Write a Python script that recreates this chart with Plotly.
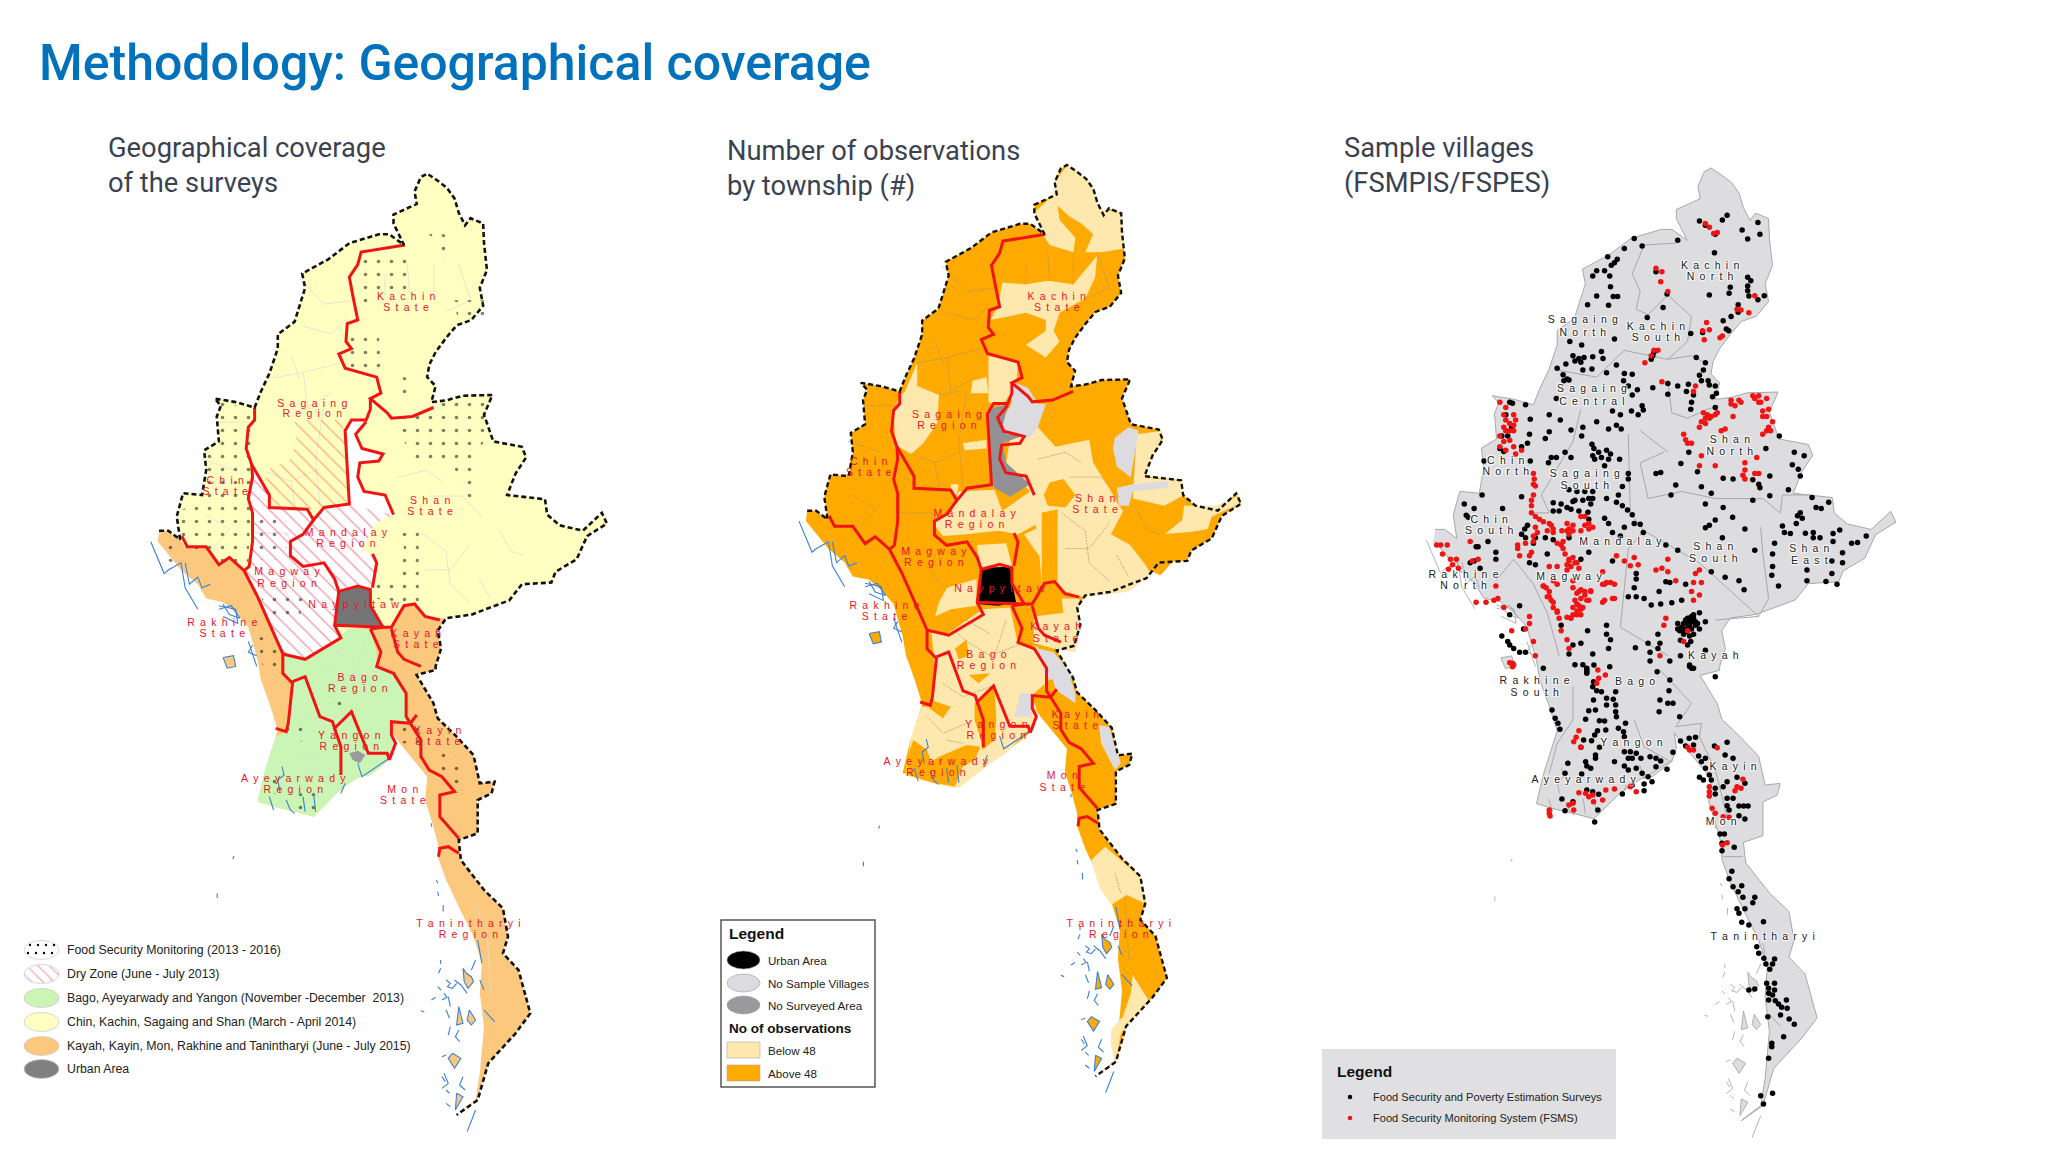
import plotly.graph_objects as go

# sheets: x0, x scale, y0, y scale of the traced crops
M1N = (0, 2.376, 120, 2.8)
M1S = (0, 2.376, 660, 3.0)
M2N = (690, 2.53, 120, 2.8)
M2S = (690, 2.53, 660, 3.0)
M3N = (1320, 2.53, 120, 2.8)
M3S = (1320, 2.53, 660, 3.0)
# the second and third map are the first one at another scale
MAP2 = (0.969, 653, 0.968, -3)
MAP3 = (1.029, 1271.4, 1.012, -7.7)

TITLE = 'Methodology: Geographical coverage'
SUBTITLES = [('Geographical coverage<br>of the surveys', 106, 165), ('Number of observations<br>by township (#)', 725, 168),
             ('Sample villages<br>(FSMPIS/FSPES)', 1342, 165)]

BORDER_N = [(378, 1150), (400, 1150), (428, 1175), (420, 1110), (435, 1045), (480, 1050), (490, 980), (485, 925),
            (520, 900), (515, 830), (525, 800), (510, 780), (560, 790), (605, 805), (620, 760), (640, 710), (660, 640),
            (660, 600), (700, 565), (725, 470), (718, 430), (780, 390), (830, 345), (900, 320), (925, 320), (960, 350),
            (935, 290), (935, 265), (990, 235), (985, 200), (1000, 160), (1015, 150), (1040, 170), (1062, 190),
            (1080, 220), (1090, 260), (1105, 295), (1118, 275), (1148, 290), (1150, 345), (1157, 420), (1140, 470),
            (1148, 520), (1120, 560), (1085, 575), (1060, 610), (1035, 650), (1020, 685), (1015, 720), (1035, 745),
            (1025, 790), (1060, 785), (1100, 772), (1170, 770), (1150, 825), (1172, 900), (1240, 915), (1250, 945),
            (1225, 990), (1205, 1050), (1295, 1062), (1300, 1105), (1330, 1135), (1385, 1150), (1430, 1100),
            (1442, 1130), (1395, 1165), (1370, 1230), (1320, 1265), (1310, 1295), (1240, 1300), (1210, 1345),
            (1120, 1385), (1060, 1395), (1040, 1430), (1048, 1480), (1035, 1530)]
BORDER_S = [(1035, 30), (990, 45), (1030, 130), (1040, 175), (1085, 230), (1125, 285), (1140, 370), (1175, 365),
            (1168, 400), (1135, 420), (1135, 520), (1090, 540), (1095, 600), (1150, 690), (1195, 745), (1207, 830),
            (1195, 880), (1232, 930), (1260, 1060), (1225, 1120), (1160, 1210), (1135, 1320), (1085, 1365)]
COAST_S = [(1130, 1320), (1140, 1240), (1150, 1100), (1140, 1000), (1145, 910), (1125, 830), (1090, 740), (1060, 660),
           (1040, 590), (1040, 550), (1025, 480), (1010, 420), (1015, 350), (975, 290), (950, 250), (930, 215),
           (935, 260), (925, 300), (880, 345), (855, 350), (830, 370), (800, 400), (745, 470), (700, 455), (650, 440),
           (612, 425), (630, 330), (655, 230), (660, 210), (640, 130), (620, 60), (612, 0)]
COAST_N = [(590, 1420), (560, 1380), (530, 1350), (490, 1340), (470, 1300), (430, 1260), (395, 1210), (375, 1180)]

# first map regions
YELLOW_N = [(378, 1150), (400, 1150), (428, 1175), (440, 1195), (490, 1195), (520, 1245), (545, 1225), (580, 1262),
            (610, 1330), (640, 1410), (672, 1495), (725, 1510), (810, 1450), (825, 1425), (910, 1420), (930, 1420),
            (960, 1360), (985, 1355), (1010, 1390), (1060, 1395)]
GREEN_N = [(672, 1495), (725, 1510), (810, 1450), (825, 1425), (880, 1425), (895, 1490)]
GREEN_S = [(895, 20), (935, 40), (965, 100), (965, 170), (975, 190), (930, 185), (930, 225), (940, 250), (925, 300),
           (880, 345), (855, 350), (830, 370), (800, 400), (745, 470), (700, 455), (650, 440), (612, 425), (630, 330),
           (655, 230), (680, 215), (685, 190), (695, 70), (672, 40)]
WHITE_STRIP = [(820, 870), (835, 840), (870, 845), (845, 880), (860, 920), (910, 935), (900, 955), (855, 960),
               (850, 1000), (865, 1040), (915, 1050), (935, 1105), (840, 1095), (830, 1075), (825, 960)]
MANDALAY = [(745, 1120), (770, 1085), (830, 1078), (935, 1105), (890, 1130), (860, 1205), (890, 1225), (890, 1305),
            (805, 1320), (795, 1285), (770, 1240), (720, 1250), (690, 1220), (690, 1180), (720, 1160)]
MAGWAY = [(598, 965), (615, 1000), (640, 1050), (640, 1085), (730, 1090), (745, 1120), (720, 1160), (690, 1180),
          (690, 1220), (720, 1250), (770, 1240), (795, 1285), (805, 1320), (795, 1415), (810, 1450), (725, 1510),
          (672, 1495), (640, 1410), (610, 1330), (580, 1262), (592, 1250), (600, 1180), (600, 1100), (590, 1060),
          (600, 1000)]
DRY_SAGAING = [(700, 840), (810, 840), (825, 890), (825, 1075), (740, 1090), (640, 1080), (625, 1040), (635, 980),
               (690, 950), (705, 900)]
NAYPYITAW = [(805, 1320), (850, 1305), (880, 1315), (880, 1360), (910, 1420), (795, 1415), (800, 1380)]
YANGON_CITY = [(830, 280), (850, 272), (868, 285), (855, 310), (838, 300)]
DOTS_N = [
    [(850, 380), (970, 380), (970, 480), (900, 490), (880, 520), (845, 520)],
    [(995, 270), (1010, 310), (1075, 325), (1070, 390), (1035, 395), (1030, 330), (1000, 305)],
    [(1075, 505), (1150, 505), (1150, 560), (1090, 560)],
    [(830, 600), (900, 595), (905, 700), (830, 700)],
    [(955, 720), (980, 720), (980, 790), (950, 770)],
    [(950, 830), (1030, 800), (1100, 775), (1170, 780), (1150, 900), (1130, 940), (1140, 1065), (1100, 1065),
     (1075, 950), (1000, 975), (960, 900)],
    [(950, 1150), (995, 1150), (995, 1350), (955, 1350), (890, 1340), (890, 1290), (930, 1290), (960, 1200)],
    [(520, 790), (605, 810), (590, 1240), (510, 1235), (430, 1180), (425, 1100), (470, 1060), (490, 940), (520, 900)],
    [(600, 1100), (680, 1120), (680, 1230), (600, 1230)],
    [(620, 1330), (720, 1340), (710, 1410), (640, 1410)],
    [(610, 1440), (665, 1480), (680, 1530), (625, 1530)],
    [(390, 1160), (430, 1180), (430, 1260), (395, 1230)],
]
DOTS_S = [
    [(940, 190), (1000, 190), (1000, 250), (950, 250)],
    [(1040, 260), (1110, 310), (1100, 390), (1040, 340)],
    [(680, 200), (730, 200), (725, 250), (680, 225)],
    [(630, 340), (670, 340), (670, 400), (630, 400)],
    [(690, 400), (760, 400), (760, 460), (690, 460)],
    [(780, 110), (815, 110), (810, 140), (780, 140)],
]

# region lines shared by the first two maps
RED_N = [
    [(962, 350), (858, 370), (850, 405), (830, 440), (838, 490), (850, 560), (825, 570), (822, 620), (835, 640),
     (805, 655), (820, 695), (895, 720), (905, 765), (880, 780), (920, 820), (930, 835), (980, 830), (1030, 805)],
    [(605, 805), (605, 840), (590, 860), (585, 920), (598, 965), (600, 1000), (590, 1060), (600, 1100), (600, 1180),
     (592, 1250), (580, 1262)],
    [(598, 965), (615, 1000), (640, 1050), (640, 1085), (730, 1090), (745, 1120), (770, 1085), (830, 1075), (825, 960),
     (820, 870), (835, 840), (870, 840), (880, 810), (880, 780)],
    [(870, 845), (845, 880), (860, 920), (910, 935), (900, 955), (855, 960), (850, 1000), (865, 1040), (915, 1050),
     (935, 1105)],
    [(745, 1120), (720, 1160), (690, 1180), (690, 1220), (720, 1250), (770, 1240), (795, 1285), (805, 1320),
     (795, 1415), (810, 1450), (725, 1510), (672, 1495)],
    [(805, 1320), (850, 1305), (880, 1315), (880, 1360), (910, 1420), (795, 1415)],
    [(885, 1215), (895, 1240), (885, 1310)],
    [(880, 1425), (910, 1420), (930, 1420), (960, 1360), (985, 1355), (1010, 1390), (1045, 1400)],
    [(930, 1425), (945, 1490), (960, 1510), (1000, 1530)],
]
RED_CROSS = [  # these run over the seam of the two crops
    ([(432, 1165), (445, 1195), (490, 1195), (520, 1245), (545, 1225), (580, 1262), (610, 1330), (640, 1410), (672, 1495)],
     [(672, 40), (695, 70), (685, 190), (680, 215), (655, 205)]),
    ([(880, 1425), (905, 1490)],
     [(895, 20), (935, 40), (965, 100), (965, 170), (975, 190), (930, 185), (930, 225), (940, 250), (925, 300)]),
]
RED_S = [
    [(990, 165), (975, 190), (1000, 240), (1000, 290), (1020, 330), (1050, 350), (1080, 395), (1045, 405), (1045, 470),
     (1090, 535)],
    [(1042, 590), (1045, 565), (1065, 560), (1090, 580)],
    [(695, 65), (725, 50), (760, 170), (790, 185), (795, 205), (835, 155), (875, 280), (920, 280), (925, 300)],
    [(795, 205), (810, 260), (810, 345)],
]
# closed rings are islands, open ones are rivers and creeks
WATER_S = [
    [(1100, 925), (1108, 940), (1120, 950), (1125, 965), (1112, 985), (1103, 965), (1100, 925)],
    [(1115, 1050), (1130, 1080), (1120, 1095), (1110, 1080), (1115, 1050)],
    [(1090, 1040), (1100, 1090), (1085, 1095), (1090, 1040)],
    [(1075, 1180), (1095, 1195), (1080, 1225), (1065, 1195), (1075, 1180)],
    [(1085, 1300), (1100, 1310), (1082, 1350), (1085, 1300)],
    [(1060, 960), (1070, 970), (1063, 980), (1075, 985), (1085, 970)],
    [(1040, 980), (1048, 990)],
    [(1025, 1020), (1035, 1012)],
    [(1065, 1010), (1070, 1040)],
    [(1060, 1050), (1068, 1075)],
    [(1070, 1100), (1065, 1125)],
    [(1050, 1190), (1060, 1185)],
    [(1050, 1250), (1058, 1265)],
    [(1060, 1290), (1068, 1300)],
    [(1060, 1330), (1070, 1340)],
    [(1080, 960), (1095, 975), (1110, 1000)],
    [(1055, 1000), (1062, 1012), (1050, 1020)],
    [(1090, 1110), (1082, 1130), (1092, 1145)],
    [(1055, 1240), (1065, 1270), (1050, 1285)],
    [(1100, 1250), (1092, 1275), (1105, 1290)],
    [(1130, 900), (1120, 930)],
    [(1140, 960), (1150, 990)],
    [(1150, 1050), (1175, 1085)],
    [(1135, 840), (1145, 910)],
    [(1110, 1415), (1130, 1350)],
    [(1047, 900), (1047, 912)],
    [(1047, 925), (1042, 940)],
    [(1000, 1052), (1008, 1056)],
    [(1037, 660), (1040, 670)],
    [(1040, 695), (1042, 708)],
    [(1053, 735), (1053, 755)],
    [(553, 597), (556, 588)],
    [(516, 700), (516, 714)],
    [(1025, 490), (1025, 500)],
    [(670, 320), (675, 345), (660, 360), (665, 395)],
    [(640, 410), (650, 450)],
    [(680, 420), (690, 450), (700, 460)],
    [(720, 410), (725, 455)],
    [(745, 400), (750, 455)],
    [(820, 370), (810, 400)],
    [(850, 310), (860, 350), (925, 295)],
]
WATER_N = [
    [(358, 1180), (390, 1270), (400, 1260), (430, 1240), (440, 1310), (470, 1370)],
    [(440, 1240), (450, 1300), (470, 1280), (480, 1310), (500, 1300)],
    [(530, 1355), (545, 1385), (570, 1395), (550, 1360), (520, 1370)],
    [(520, 1360), (560, 1370), (565, 1410), (530, 1390)],
    [(600, 1470), (590, 1490), (610, 1500)],
    [(590, 1460), (610, 1530)],
    [(530, 1505), (555, 1500), (560, 1530), (540, 1535), (530, 1505)],
]

# second map fills
LIGHT_N2 = [
    [(955, 125), (1020, 180), (1035, 250), (1090, 260), (1100, 360), (1040, 370), (1000, 370), (1020, 320), (990, 290),
     (960, 270), (930, 240), (935, 280), (975, 330), (970, 370), (910, 350), (895, 325), (870, 260), (920, 210),
     (925, 170)],
    [(790, 455), (850, 460), (905, 450), (970, 460), (1030, 380), (1025, 440), (1000, 500), (935, 540), (920, 590),
     (935, 620), (900, 665), (850, 630), (900, 590), (900, 560), (850, 540), (760, 560), (780, 520)],
    [(715, 730), (750, 720), (755, 765), (710, 765)],
    [(530, 770), (575, 745), (630, 770), (625, 850), (590, 905), (560, 935), (520, 910), (515, 820)],
    [(540, 770), (575, 680), (575, 745)],
    [(755, 660), (830, 680), (825, 740), (790, 800), (755, 790)],
    [(690, 905), (750, 895), (750, 920), (695, 925)],
    [(810, 890), (880, 860), (925, 915), (1010, 895), (1020, 960), (1060, 1030), (1085, 1080), (1100, 1100),
     (1085, 1150), (1170, 1270), (1110, 1320), (1040, 1330), (990, 1335), (950, 1320), (925, 1295), (890, 1300),
     (880, 1170), (860, 1040), (800, 960)],
    [(1250, 1080), (1330, 1080), (1392, 1050), (1390, 1075), (1320, 1110), (1310, 1145), (1190, 1170), (1245, 1120)],
    [(1130, 880), (1195, 870), (1190, 900), (1150, 1000), (1245, 1010), (1250, 1050), (1200, 1080), (1120, 1060)],
    [(680, 1040), (770, 1035), (790, 1095), (860, 1040), (870, 1050), (880, 1130), (830, 1160), (780, 1150), (700, 1160),
     (640, 1165), (615, 1130), (660, 1100)],
    [(630, 1350), (650, 1310), (725, 1285), (725, 1360), (660, 1370), (620, 1390)],
    [(725, 1190), (800, 1185), (815, 1250), (735, 1250)],
    [(940, 1340), (985, 1340), (985, 1430), (975, 1490), (920, 1480), (870, 1465), (870, 1390), (945, 1380)],
    [(660, 1020), (680, 1020), (675, 1050), (660, 1040)],
    [(845, 1160), (885, 1140), (890, 1230), (870, 1200)],
]
LIGHT_CROSS_N = [(610, 1425), (650, 1440), (740, 1370), (810, 1365), (830, 1470), (880, 1475), (895, 1530)]
LIGHT_CROSS_S = [(900, 70), (865, 105), (880, 160), (870, 210), (850, 215), (800, 280), (760, 310), (680, 385),
                 (630, 375), (545, 345), (560, 230), (585, 140), (610, 140), (620, 30)]
LIGHT_S2 = [
    [(1015, 600), (1050, 560), (1090, 600), (1140, 650), (1150, 730), (1105, 705), (1065, 735), (1035, 680)],
    [(1120, 945), (1160, 1020), (1120, 1080), (1090, 1120), (1075, 1220), (1065, 1150), (1065, 1110), (1095, 1070),
     (1115, 1000)],
]
ABOVE_N2 = [
    [(910, 1015), (945, 1005), (975, 1050), (950, 1085), (905, 1080), (895, 1050)],
    [(890, 1100), (930, 1090), (930, 1290), (890, 1300)],
    [(1065, 1160), (1110, 1065), (1150, 1070), (1240, 1090), (1245, 1120), (1190, 1160), (1310, 1150), (1320, 1165),
     (1235, 1220), (1190, 1275), (1160, 1260), (1130, 1200)],
    [(670, 1480), (700, 1455), (705, 1500), (680, 1510)],
]
ABOVE_S2 = [
    [(610, 120), (660, 140), (640, 175), (605, 145)],
    [(720, 130), (770, 80), (775, 180), (770, 240), (740, 270), (735, 235), (720, 180)],
    [(550, 290), (565, 240), (600, 270), (610, 305), (630, 290), (700, 255), (735, 260), (720, 300), (690, 320),
     (670, 380), (650, 375), (620, 370), (590, 360), (550, 345)],
    [(705, 45), (760, 40), (730, 70)],
]
NO_SAMPLE_N2 = [
    [(820, 735), (855, 750), (880, 795), (900, 795), (880, 860), (860, 890), (800, 880), (785, 850), (815, 790),
     (805, 760)],
    [(1075, 890), (1110, 860), (1135, 870), (1115, 1000), (1080, 970), (1070, 920)],
    [(1080, 1030), (1120, 1020), (1210, 1010), (1210, 1030), (1120, 1040), (1110, 1080), (1085, 1080)],
    [(880, 1480), (920, 1490), (975, 1560), (900, 1568)],
]
NO_SAMPLE_S2 = [
    [(905, 0), (950, 10), (975, 100), (975, 130), (945, 105), (925, 90)],
    [(1035, 195), (1060, 200), (1090, 310), (1075, 330), (1040, 250)],
    [(820, 170), (835, 100), (865, 100), (865, 170)],
]
NOT_SURVEYED_N2 = [(755, 810), (805, 795), (790, 860), (800, 880), (840, 885), (790, 905), (800, 960), (860, 1020),
                   (810, 1055), (770, 1030), (755, 960), (760, 880)]
URBAN_N2 = [(735, 1255), (810, 1250), (815, 1295), (825, 1350), (780, 1360), (725, 1355), (735, 1300)]
TOWNSHIPS_N2 = [
    [(640, 410), (700, 480), (770, 470)], [(650, 540), (720, 560), (755, 520)], [(575, 680), (650, 665), (740, 640)],
    [(650, 665), (660, 760), (720, 720)], [(620, 620), (640, 680)], [(905, 370), (910, 450)], [(850, 460), (850, 400)],
    [(970, 460), (970, 370)], [(1030, 370), (1060, 470), (1000, 500)], [(700, 760), (680, 900), (690, 1020)],
    [(630, 770), (680, 760)], [(560, 935), (620, 960), (690, 925)], [(620, 960), (630, 1030)], [(400, 900), (480, 930)],
    [(410, 1050), (470, 1090), (430, 1140)], [(440, 800), (520, 800)], [(530, 1100), (610, 1100), (620, 1130)],
    [(540, 1000), (600, 1040), (660, 1040)], [(600, 1250), (640, 1310)], [(960, 1000), (1040, 1000), (1090, 1060)],
    [(880, 950), (950, 930), (990, 960)], [(940, 1100), (1000, 1150), (1010, 1240), (1060, 1290)],
    [(950, 1200), (1010, 1200), (1060, 1130)], [(1130, 1090), (1160, 1150), (1190, 1160)], [(1080, 1220), (1110, 1280)],
    [(640, 1400), (700, 1460), (760, 1500), (830, 1470)], [(700, 1400), (760, 1440)], [(800, 1400), (770, 1500)],
]
TOWNSHIPS_S2 = [
    [(600, 170), (640, 220), (700, 190)], [(650, 240), (690, 250)], [(640, 70), (690, 110), (760, 80)],
    [(1075, 640), (1090, 700)], [(1100, 710), (1110, 900)],
]

# third map
GREY_LINES_N3 = [
    [(900, 345), (820, 350), (790, 430), (810, 480), (800, 530), (830, 545), (880, 490), (940, 550), (930, 620),
     (880, 670), (940, 660), (975, 680)],
    [(600, 700), (700, 720), (770, 645), (880, 670)],
    [(1010, 800), (980, 810), (930, 835), (890, 820), (880, 730)],
    [(870, 930), (810, 960), (830, 1060), (915, 1040), (1000, 1060), (1120, 1060), (1165, 1100), (1170, 1050),
     (1240, 1050)],
    [(1115, 1140), (1120, 1210), (1135, 1340), (1110, 1390)],
    [(810, 870), (880, 930)],
    [(780, 880), (785, 1100), (820, 1150), (780, 1200), (760, 1420), (880, 1500)],
    [(660, 810), (640, 900), (560, 1050), (580, 1100), (540, 1100)],
    [(445, 1290), (490, 1230), (540, 1300), (575, 1380), (605, 1500)],
    [(820, 1150), (960, 1240), (1110, 1390), (1000, 1400)],
]
GREY_LINES_S3 = [
    [(640, 80), (640, 180), (600, 250), (580, 340)],
    [(860, 30), (940, 130), (900, 200), (965, 190), (960, 230), (1000, 330), (1030, 470)],
    [(795, 180), (820, 260), (880, 300)],
    [(1020, 590), (1070, 590)],
]
VILLAGES_FSPES_N = [
    (960, 283), (975, 295), (1018, 280), (1030, 267), (1000, 320), (1068, 308), (1108, 287), (1113, 320), (1082, 333),
    (998, 372), (795, 332), (815, 353), (905, 337), (770, 360), (728, 383), (752, 390), (745, 400), (737, 407),
    (700, 422), (720, 422), (690, 437), (733, 437), (735, 467), (850, 425), (878, 487), (1082, 440), (1090, 450),
    (1082, 465), (1082, 478), (1038, 468), (1035, 485), (985, 490), (700, 493), (742, 494), (753, 494), (677, 517),
    (730, 519), (868, 525), (1124, 492), (1108, 503), (1085, 493), (1058, 517), (1058, 538), (1040, 550), (1020, 562),
    (1028, 585), (1034, 590), (828, 553), (745, 613), (632, 620), (662, 630), (938, 598), (968, 595), (712, 648),
    (640, 660), (655, 668), (668, 665), (690, 663), (645, 675), (660, 678), (622, 683), (600, 695), (688, 697),
    (665, 700), (716, 668), (750, 686), (770, 710), (790, 712), (725, 708), (615, 713), (625, 725), (617, 730),
    (630, 728), (845, 650), (842, 660), (838, 670), (952, 665), (975, 680), (970, 700), (960, 715), (982, 730),
    (1000, 745), (985, 742), (965, 730), (932, 740), (927, 760), (945, 770), (1003, 765), (993, 775), (905, 745),
    (880, 738), (880, 768), (842, 750), (768, 730), (780, 745), (790, 770), (803, 755), (740, 815), (760, 825),
    (788, 815), (815, 800), (818, 812), (805, 825), (1000, 805), (940, 790), (938, 810), (598, 780), (580, 825),
    (608, 840), (700, 845), (750, 855), (730, 865), (762, 865), (665, 860), (662, 885), (635, 868), (580, 873),
    (570, 892), (688, 908), (693, 920), (690, 940), (705, 930), (725, 925), (735, 935), (712, 945), (695, 950),
    (730, 950), (758, 950), (720, 968), (620, 930), (578, 960), (585, 945), (598, 945), (635, 945), (780, 990),
    (780, 1005), (765, 1026), (850, 990), (862, 987), (900, 1022), (888, 1050), (965, 1027), (990, 1045), (955, 985),
    (933, 930), (913, 962), (1020, 1003), (1045, 1005), (1095, 1007), (1138, 997), (1128, 920), (1162, 885),
    (1200, 930), (1225, 940), (1195, 965), (1210, 978), (1215, 997), (1185, 1035), (1138, 1052), (1110, 1020),
    (1113, 1030), (1020, 1085), (1044, 1112), (1000, 1120), (985, 1135), (975, 1142), (1075, 1145), (1018, 1170),
    (1095, 1065), (975, 1075), (1245, 1057), (1255, 1085), (1268, 1088), (1287, 1070), (1215, 1100), (1208, 1108),
    (1220, 1115), (1205, 1130), (1170, 1137), (1175, 1155), (1190, 1158), (1228, 1157), (1248, 1155), (1248, 1170),
    (1265, 1170), (1298, 1158), (1315, 1148), (1298, 1180), (1345, 1185), (1360, 1183), (1382, 1165), (1322, 1212),
    (1295, 1235), (1322, 1240), (1295, 1270), (1232, 1260), (1232, 1290), (1280, 1292), (1308, 1300), (1150, 1185),
    (1145, 1215), (1145, 1250), (1143, 1275), (1160, 1305), (1100, 1205), (1073, 1315), (1060, 1290), (1025, 1280),
    (990, 1265), (905, 1205), (875, 1190), (480, 790), (487, 793), (520, 797), (470, 825), (532, 838), (485, 860),
    (460, 885), (475, 885), (530, 880), (525, 905), (510, 915), (455, 920), (465, 928), (532, 955), (415, 955),
    (365, 1075), (390, 1088), (410, 1050), (462, 1088), (510, 1055), (370, 1107), (375, 1112), (525, 1135), (518, 1145),
    (510, 1160), (520, 1170), (545, 1170), (540, 1185), (425, 1180), (395, 1195), (400, 1195), (445, 1210), (445, 1230),
    (380, 1240), (405, 1255), (390, 1235), (590, 1072), (590, 1095), (610, 1075), (640, 1068), (680, 1060), (685, 1075),
    (725, 1060), (755, 1050), (750, 1070), (765, 1080), (778, 1092), (790, 1105), (795, 1130), (810, 1132), (818, 1155),
    (605, 1095), (625, 1085), (635, 1090), (655, 1095), (678, 1098), (720, 1115), (730, 1130), (680, 1118), (770, 1140),
    (740, 1155), (630, 1170), (590, 1175), (570, 1170), (575, 1215), (530, 1240), (545, 1245), (680, 1210), (660, 1230),
    (760, 1165), (740, 1235), (800, 1270), (800, 1285), (795, 1310), (780, 1335), (800, 1335), (820, 1340), (858, 1320),
    (838, 1358), (862, 1355), (890, 1352), (915, 1345), (885, 1295), (875, 1293), (925, 1300), (960, 1380), (505, 1360),
    (480, 1385), (515, 1425), (610, 1415), (677, 1430), (725, 1415), (725, 1440), (735, 1455), (730, 1480), (660, 1465),
    (640, 1470), (630, 1495), (645, 1525), (665, 1525), (690, 1495), (798, 1478), (830, 1465), (855, 1440), (860, 1465),
    (855, 1480), (835, 1490), (885, 1515), (912, 1500), (835, 1515), (935, 1530), (940, 1535), (975, 1485), (565, 1535),
    (460, 1445), (475, 1460), (480, 1470), (490, 1480), (505, 1490), (520, 1490), (675, 1545), (675, 1535), (925, 1400),
    (935, 1395), (945, 1385), (930, 1410), (940, 1405), (950, 1415), (915, 1420), (925, 1425), (940, 1425), (910, 1430),
    (960, 1425), (955, 1410), (905, 1410), (920, 1440), (935, 1445), (945, 1440), (912, 1457), (930, 1470), (975, 1405),
    (630, 1035), (650, 1040), (670, 1040), (690, 1040), (645, 1065), (665, 1065), (690, 1060), (930, 1395), (940, 1390),
    (920, 1410), (932, 1420), (945, 1395), (950, 1405), (935, 1415), (928, 1432), (905, 1425), (938, 1460), (918, 1430),
]
VILLAGES_FSPES_S = [
    (733, 20), (693, 15), (675, 30), (675, 40), (885, 60), (853, 35), (883, 92), (860, 120), (880, 130), (893, 130),
    (858, 155), (910, 170), (1000, 50), (692, 65), (690, 80), (700, 92), (712, 95), (748, 95), (742, 118), (725, 115),
    (692, 120), (725, 135), (748, 135), (748, 155), (750, 170), (680, 152), (697, 150), (587, 150), (595, 175),
    (602, 190), (607, 208), (672, 178), (707, 182), (720, 183), (773, 190), (755, 205), (768, 215), (770, 230),
    (723, 210), (702, 212), (695, 225), (667, 240), (687, 242), (707, 262), (660, 262), (770, 275), (785, 275),
    (800, 280), (780, 295), (790, 295), (812, 295), (835, 290), (850, 295), (862, 303), (850, 320), (878, 328),
    (770, 318), (800, 325), (780, 330), (815, 340), (830, 350), (840, 365), (820, 372), (697, 285), (697, 295),
    (672, 305), (675, 318), (685, 325), (745, 305), (627, 310), (620, 340), (662, 342), (893, 277), (912, 243),
    (934, 235), (950, 232), (925, 258), (945, 255), (1030, 247), (998, 258), (1025, 285), (1045, 295), (958, 288),
    (975, 295), (965, 305), (975, 325), (960, 352), (985, 345), (970, 360), (990, 360), (1030, 365), (1055, 352),
    (1075, 370), (1020, 380), (1000, 385), (1000, 402), (1030, 415), (1045, 415), (1030, 437), (1060, 438), (1072, 438),
    (1083, 438), (1035, 450), (1060, 467), (1075, 477), (1012, 522), (1023, 522), (1017, 550), (1017, 572), (1048, 562),
    (1042, 634), (1035, 656), (1045, 680), (1067, 677), (1058, 695), (1070, 712), (1100, 712), (1095, 728), (1055, 746),
    (1075, 746), (1060, 760), (1067, 787), (1085, 795), (1122, 785), (1105, 860), (1110, 880), (1123, 895), (1150, 897),
    (1128, 912), (1145, 912), (1138, 928), (1130, 970), (1150, 970), (1135, 985), (1150, 990), (1085, 990), (1100, 987),
    (1135, 1000), (1145, 1005), (1135, 1020), (1152, 1022), (1160, 1032), (1180, 1020), (1168, 1042), (1182, 1045),
    (1133, 1070), (1165, 1065), (1187, 1077), (1200, 1093), (1173, 1130), (1143, 1150), (1143, 1160), (1135, 1195),
    (1145, 1300), (1115, 1307), (1122, 1332), (612, 417), (620, 452), (703, 450), (695, 486), (765, 402), (790, 375),
    (820, 392), (675, 390), (690, 395), (705, 403), (640, 425), (935, 15), (945, 25),
]
VILLAGES_FSMS_N = [
    (975, 290), (985, 300), (1005, 315), (996, 318), (850, 415), (865, 425), (862, 453), (880, 480), (1100, 492),
    (1085, 540), (1065, 532), (1055, 530), (978, 567), (985, 587), (968, 590), (972, 615), (1012, 610), (1018, 605),
    (855, 645), (845, 645), (838, 660), (822, 680), (865, 733), (950, 745), (945, 760), (455, 790), (470, 805),
    (465, 825), (490, 825), (495, 840), (490, 870), (470, 870), (480, 897), (510, 925), (495, 935), (540, 990),
    (542, 1005), (540, 1020), (545, 1025), (540, 1050), (535, 1065), (535, 1080), (535, 1100), (545, 1110), (555, 1118),
    (565, 1125), (585, 1135), (590, 1155), (625, 1130), (640, 1135), (660, 1110), (670, 1135), (680, 1145), (690, 1140),
    (630, 1160), (612, 1150), (600, 1185), (615, 1200), (540, 1165), (520, 1185), (500, 1190), (505, 1220), (535, 1210),
    (630, 1230), (645, 1240), (655, 1255), (625, 1260), (600, 1250), (580, 1250), (565, 1305), (580, 1320), (640, 1290),
    (655, 1320), (670, 1320), (685, 1318), (680, 1345), (650, 1355), (660, 1370), (640, 1365), (650, 1385), (635, 1395),
    (600, 1375), (590, 1350), (580, 1335), (605, 1395), (610, 1430), (625, 1455), (630, 1480), (715, 1300), (745, 1300),
    (725, 1295), (740, 1340), (715, 1350), (715, 1265), (750, 1220), (770, 1235), (795, 1225), (805, 1245), (785, 1248),
    (880, 1230), (865, 1255), (880, 1265), (900, 1290), (850, 1260), (960, 1260), (950, 1270), (945, 1295), (965, 1295),
    (940, 1320), (960, 1330), (945, 1345), (875, 1395), (870, 1415), (930, 1430), (920, 1460), (860, 1500), (295, 1190),
    (305, 1190), (322, 1190), (310, 1215), (330, 1230), (345, 1230), (335, 1245), (350, 1255), (325, 1258), (380, 1180),
    (385, 1235), (400, 1230), (445, 1305), (450, 1340), (395, 1350), (420, 1350), (440, 1345), (465, 1365), (530, 1390),
    (485, 1430), (520, 1425), (530, 1410), (540, 1460), (545, 1500), (490, 1525), (480, 1520), (980, 825), (975, 835),
    (965, 845), (990, 830), (1005, 820), (1040, 785), (1060, 785), (1050, 800), (1095, 772), (1110, 772), (1130, 780),
    (1110, 790), (1120, 815), (1135, 810), (1130, 830), (1145, 845), (1135, 860), (1130, 870), (1120, 880), (1025, 865),
    (1015, 870), (1045, 830), (920, 880), (925, 895), (940, 905), (930, 905), (1105, 945), (1110, 990), (1075, 960),
    (1075, 980), (1070, 995), (1075, 1005), (1100, 990), (1000, 968), (960, 968), (965, 940), (565, 1305), (572, 1310),
    (590, 1290), (600, 1300), (640, 1310), (650, 1325), (660, 1315), (670, 1330), (685, 1320), (660, 1340), (645, 1345),
    (675, 1345), (655, 1360), (665, 1365), (650, 1375), (640, 1385), (625, 1392), (660, 1385), (590, 1365), (600, 1378),
    (585, 1345), (575, 1335), (720, 1300), (735, 1295), (745, 1340), (720, 1345), (630, 1235), (640, 1225), (650, 1240),
    (635, 1250), (625, 1245), (620, 1215), (610, 1190), (615, 1180), (580, 1130), (575, 1150), (590, 1145), (545, 1140),
    (550, 1155), (540, 1180), (500, 1200), (530, 1220), (670, 1110), (680, 1130), (630, 1145), (625, 1150), (660, 1150),
    (640, 1150), (470, 840), (480, 850), (490, 855), (465, 860), (480, 870), (455, 885), (465, 900), (455, 915), (470, 925),
    (490, 915), (970, 820), (985, 835), (975, 850), (960, 860), (1000, 825), (1040, 795), (1065, 790), (1100, 780),
    (1115, 790), (1120, 830), (1140, 870),
]
VILLAGES_FSMS_S = [
    (703, 30), (705, 55), (700, 70), (722, 45), (655, 212), (648, 232), (642, 245), (660, 262), (930, 262), (935, 270),
    (945, 270), (1005, 263), (1070, 358), (1055, 380), (1050, 392), (1065, 385), (985, 380), (985, 395), (985, 408),
    (992, 445), (1000, 460), (1020, 470), (1035, 472), (1030, 548), (1018, 555), (655, 398), (672, 400), (680, 410),
    (690, 405), (723, 390), (745, 387), (800, 395), (785, 380), (715, 420), (692, 425), (640, 430), (630, 435),
    (642, 450), (580, 450), (580, 460), (582, 468), (487, 10), (487, 20),
]

# labels: text, x, y
LABELS_M1N = [('K a c h i n', 965, 497), ('S t a t e', 965, 528), ('S a g a i n g', 742, 795), ('R e g i o n', 742, 825),
              ('C h i n', 535, 1012), ('S t a t e', 535, 1043), ('S h a n', 1022, 1069), ('S t a t e', 1022, 1100),
              ('M a n d a l a y', 822, 1158), ('R e g i o n', 822, 1188), ('M a g w a y', 682, 1268),
              ('R e g i o n', 682, 1300), ('N a y p y i t a w', 840, 1360), ('R a k h i n e', 528, 1410),
              ('S t a t e', 528, 1441), ('K a y a h', 988, 1441), ('S t a t e', 988, 1472)]
LABELS_M1S = [('B a g o', 850, 54), ('R e g i o n', 850, 87), ('Y a n g o n', 830, 230), ('R e g i o n', 830, 263),
              ('A y e y a r w a d y', 697, 358), ('R e g i o n', 697, 392), ('K a y i n', 1040, 215), ('S t a t e', 1040, 248),
              ('M o n', 957, 391), ('S t a t e', 957, 424), ('T a n i n t h a r y i', 1113, 792), ('R e g i o n', 1113, 825)]
LABELS_M2N = [('K a c h i n', 928, 497), ('S t a t e', 928, 528), ('S a g a i n g', 650, 826), ('R e g i o n', 650, 858),
              ('C h i n', 452, 958), ('S t a t e', 452, 990), ('S h a n', 1025, 1062), ('S t a t e', 1025, 1092),
              ('M a n d a l a y', 720, 1105), ('R e g i o n', 720, 1136), ('M a g w a y', 617, 1211),
              ('R e g i o n', 617, 1242), ('N a y p y i t a w', 783, 1313), ('R a k h i n e', 492, 1361),
              ('S t a t e', 492, 1392), ('K a y a h', 925, 1422), ('S t a t e', 925, 1453), ('B a g o', 750, 1500),
              ('R e g i o n', 750, 1531)]
LABELS_M2S = [('Y a n g o n', 775, 197), ('R e g i o n', 775, 230), ('A y e y a r w a d y', 622, 306),
              ('R e g i o n', 622, 339), ('K a y i n', 975, 167), ('S t a t e', 975, 200), ('M o n', 942, 350),
              ('S t a t e', 942, 384), ('T a n i n t h a r y i', 1085, 792), ('R e g i o n', 1085, 826)]
LABELS_M3N = [('K a c h i n', 987, 410), ('N o r t h', 987, 442), ('S a g a i n g', 665, 561), ('N o r t h', 665, 597),
              ('K a c h i n', 850, 580), ('S o u t h', 850, 612), ('S a g a i n g', 688, 755), ('C e n t r a l', 688, 791),
              ('S h a n', 1037, 898), ('N o r t h', 1037, 930), ('C h i n', 470, 955), ('N o r t h', 470, 988),
              ('S a g a i n g', 670, 992), ('S o u t h', 670, 1027), ('C h i n', 428, 1120), ('S o u t h', 428, 1153),
              ('M a n d a l a y', 760, 1184), ('S h a n', 995, 1198), ('S o u t h', 995, 1230), ('S h a n', 1238, 1201),
              ('E a s t', 1238, 1235), ('R a k h i n e', 363, 1275), ('N o r t h', 363, 1307), ('M a g w a y', 630, 1282),
              ('K a y a h', 995, 1502)]
LABELS_M3S = [('R a k h i n e', 543, 65), ('S o u t h', 543, 99), ('B a g o', 797, 68), ('Y a n g o n', 788, 249),
              ('A y e y a r w a d y', 667, 361), ('K a y i n', 1045, 323), ('M o n', 1015, 487),
              ('T a n i n t h a r y i', 1120, 832)]

LEGEND1_NAMES = ['Food Security Monitoring (2013 - 2016)', 'Dry Zone (June - July 2013)',
                 'Bago, Ayeyarwady and Yangon (November -December  2013)', 'Chin, Kachin, Sagaing and Shan (March - April 2014)',
                 'Kayah, Kayin, Mon, Rakhine and Tanintharyi (June - July 2015)', 'Urban Area']
LEGEND1_Y = [950, 974, 998, 1022, 1046, 1069]
LEGEND1_FILL = ['white', 'white', '#CBF5B4', '#FFFFC2', '#FBC87E', '#808080']
LEGEND1_DOT_X = [30, 38, 46, 54, 28, 36, 44, 52]
LEGEND1_DOT_Y = [945, 945, 945, 945, 953, 953, 953, 953]
LEGEND1_HATCH = [(30, 967), (41, 964.5), (53, 967), (59, 974), (53, 981), (41, 983.5), (30, 981), (24, 974)]
LEGEND2_OVALS = [('Urban Area', 960, 'black'), ('No Sample Villages', 983, '#DCDCE0'), ('No Surveyed Area', 1005, '#9A9A9E')]
LEGEND2_BOXES = [('Below 48', 1050, '#FFE8AD'), ('Above 48', 1073, '#FFAA00')]
LEGEND3_NAMES = ['Food Security and Poverty Estimation Surveys', 'Food Security Monitoring System (FSMS)']
LEGEND3_Y = [1097, 1118]
LEGEND3_COLORS = ['black', '#E8141C']


def to_px(points, sheet):
    x0, sx, y0, sy = sheet
    return [(x0 + x / sx, y0 + y / sy) for x, y in points]


def on_map(points, key):
    a, b, c, d = key
    return [(a * x + b, c * y + d) for x, y in points]


def off_map(points, key):
    a, b, c, d = key
    return [((x - b) / a, (y - d) / c) for x, y in points]


def polygon(fig, pts, fill, line='rgba(0,0,0,0)', width=0, pattern=None):
    fig.add_trace(go.Scatter(x=[p[0] for p in pts], y=[p[1] for p in pts], mode='lines', fill='toself', fillcolor=fill,
                             fillpattern=pattern, line=dict(color=line, width=width), hoverinfo='skip'))


def path(fig, pts, color, width, dash='solid'):
    fig.add_trace(go.Scatter(x=[p[0] for p in pts], y=[p[1] for p in pts], mode='lines',
                             line=dict(color=color, width=width, dash=dash), hoverinfo='skip'))


def water(fig, lines, land, color, width):
    for w in lines:
        if w[0] == w[-1]:
            polygon(fig, w, land, line=color, width=width)
        else:
            path(fig, w, color, width)


def labels(fig, rows, sheet, color, halo=None):
    pts = to_px([(r[1], r[2]) for r in rows], sheet)
    fig.add_trace(go.Scatter(x=[p[0] for p in pts], y=[p[1] for p in pts], mode='text',
                             text=[r[0].replace(' ', '\u2002') for r in rows],
                             textposition='middle center', hoverinfo='skip',
                             textfont=dict(family='Liberation Sans', size=10.5, color=color, shadow=halo)))


def note(fig, text, x, y, size, color='#222222', family='Liberation Sans', anchor='middle', weight='normal'):
    fig.add_annotation(x=x, y=y, xref='x', yref='y', text=text, showarrow=False, xanchor='left', yanchor=anchor,
                       align='left', font=dict(family=family, size=size, color=color, weight=weight))


border = to_px(BORDER_N, M1N) + to_px(BORDER_S, M1S)
outline = border + to_px(COAST_S, M1S) + to_px(COAST_N, M1N)
red_lines = [to_px(p, M1N) for p in RED_N] + [to_px(p, M1S) for p in RED_S]
red_lines += [to_px(a, M1N) + to_px(b, M1S) for a, b in RED_CROSS]
waters = [to_px(p, M1S) for p in WATER_S] + [to_px(p, M1N) for p in WATER_N]
townships = [to_px(p, M2N) for p in TOWNSHIPS_N2] + [to_px(p, M2S) for p in TOWNSHIPS_S2]

fig = go.Figure()

# map 1
polygon(fig, outline, '#FBC87E')
polygon(fig, to_px(BORDER_N[:BORDER_N.index((1060, 1395)) + 1], M1N) + to_px(YELLOW_N, M1N)[::-1], '#FFFFC2')
polygon(fig, to_px(GREEN_N, M1N) + to_px(GREEN_S, M1S), '#CBF5B4')
polygon(fig, to_px(WHITE_STRIP, M1N), 'white')
polygon(fig, to_px(MAGWAY, M1N), 'white')
polygon(fig, to_px(MANDALAY, M1N), 'white')
for t in townships:
    path(fig, off_map(t, MAP2), '#DEDED2', 0.8)
hatch = dict(shape='\\', fgcolor='#E0304A', size=10, solidity=0.13)
polygon(fig, to_px(DRY_SAGAING, M1N), 'rgba(0,0,0,0)', pattern=dict(hatch, fgcolor='#F0602A'))
polygon(fig, to_px(MAGWAY, M1N), 'rgba(0,0,0,0)', pattern=hatch)
polygon(fig, to_px(MANDALAY, M1N), 'rgba(0,0,0,0)', pattern=hatch)
polygon(fig, to_px(NAYPYITAW, M1N), '#757575')
polygon(fig, to_px(YANGON_CITY, M1S), '#9A9A9A')
dots = dict(shape='.', fgcolor='black', size=13, solidity=0.06)
for patch in [to_px(p, M1N) for p in DOTS_N] + [to_px(p, M1S) for p in DOTS_S]:
    polygon(fig, patch, 'rgba(0,0,0,0)', pattern=dots)
water(fig, waters, '#FBC87E', '#3A80D8', 1.1)
for r in red_lines:
    path(fig, r, '#F01414', 3)
path(fig, border, '#111111', 2.6, '5px,3px')
labels(fig, LABELS_M1N, M1N, '#E8142C')
labels(fig, LABELS_M1S, M1S, '#E8142C')

# map 2
polygon(fig, on_map(outline, MAP2), '#FFAA00')
polygon(fig, to_px(LIGHT_CROSS_N, M2N) + to_px(LIGHT_CROSS_S, M2S), '#FFE8AD')
for p in LIGHT_N2:
    polygon(fig, to_px(p, M2N), '#FFE8AD')
for p in LIGHT_S2:
    polygon(fig, to_px(p, M2S), '#FFE8AD')
for p in ABOVE_N2:
    polygon(fig, to_px(p, M2N), '#FFAA00')
for p in ABOVE_S2:
    polygon(fig, to_px(p, M2S), '#FFAA00')
for p in NO_SAMPLE_N2:
    polygon(fig, to_px(p, M2N), '#DCDCE0')
for p in NO_SAMPLE_S2:
    polygon(fig, to_px(p, M2S), '#DCDCE0')
polygon(fig, to_px(NOT_SURVEYED_N2, M2N), '#929296')
polygon(fig, to_px(URBAN_N2, M2N), 'black')
for t in townships:
    path(fig, t, '#A89468', 0.7, '2px,1px')
water(fig, [on_map(w, MAP2) for w in waters], '#FFAA00', '#3A80D8', 1.1)
for r in red_lines:
    path(fig, on_map(r, MAP2), '#F01414', 3)
path(fig, on_map(border, MAP2), '#111111', 2.4, '5px,3px')
labels(fig, LABELS_M2N, M2N, '#E8142C')
labels(fig, LABELS_M2S, M2S, '#E8142C')

# map 3
polygon(fig, on_map(outline, MAP3), '#DDDDE0', line='#A8A8AC', width=1)
for p in GREY_LINES_N3:
    path(fig, to_px(p, M3N), '#A8A8AC', 1)
for p in GREY_LINES_S3:
    path(fig, to_px(p, M3S), '#A8A8AC', 1)
water(fig, [on_map(w, MAP3) for w in waters], '#DDDDE0', '#A0A0A4', 0.8)
black = to_px(VILLAGES_FSPES_N, M3N) + to_px(VILLAGES_FSPES_S, M3S)
red = to_px(VILLAGES_FSMS_N, M3N) + to_px(VILLAGES_FSMS_S, M3S)
for pts, color in ((black, 'black'), (red, '#F01414')):
    fig.add_trace(go.Scatter(x=[p[0] for p in pts], y=[p[1] for p in pts], mode='markers',
                             marker=dict(color=color, size=5.5), hoverinfo='skip'))
halo = '1px 1px 1px #fff, -1px -1px 1px #fff, 1px -1px 1px #fff, -1px 1px 1px #fff'
labels(fig, LABELS_M3N, M3N, '#222222', halo)
labels(fig, LABELS_M3S, M3S, '#222222', halo)

# legend of map 1
for name, y, color in zip(LEGEND1_NAMES, LEGEND1_Y, LEGEND1_FILL):
    fig.add_shape(type='circle', x0=24, x1=59, y0=y - 9.5, y1=y + 9.5, xref='x', yref='y', fillcolor=color,
                  line=dict(color='#CCCCCC', width=0.8), layer='below')
    note(fig, name, 65, y, 12.3)
fig.add_trace(go.Scatter(x=LEGEND1_DOT_X, y=LEGEND1_DOT_Y, mode='markers', marker=dict(color='black', size=2.4),
                         hoverinfo='skip'))
polygon(fig, LEGEND1_HATCH, 'rgba(0,0,0,0)', pattern=dict(shape='\\', fgcolor='#E0304A', size=8, solidity=0.14))

# legend of map 2
fig.add_shape(type='rect', x0=721, x1=875, y0=920, y1=1087, xref='x', yref='y', fillcolor='white',
              line=dict(color='#555555', width=1.5))
note(fig, 'Legend', 727, 933, 15.5, color='#111111', weight='bold')
note(fig, 'No of observations', 727, 1028, 13.5, color='#111111', weight='bold')
for name, y, color in LEGEND2_OVALS:
    fig.add_shape(type='circle', x0=727, x1=760, y0=y - 9, y1=y + 9, xref='x', yref='y', fillcolor=color,
                  line=dict(color='#999999', width=0.6))
    note(fig, name, 766, y, 11.6)
for name, y, color in LEGEND2_BOXES:
    fig.add_shape(type='rect', x0=727, x1=760, y0=y - 8, y1=y + 8, xref='x', yref='y', fillcolor=color,
                  line=dict(color='#AAAAAA', width=0.6))
    note(fig, name, 766, y, 11.6)

# legend of map 3
fig.add_shape(type='rect', x0=1322, x1=1616, y0=1049, y1=1139, xref='x', yref='y', fillcolor='#E0E0E3', line_width=0,
              layer='below')
note(fig, 'Legend', 1335, 1071, 15.5, color='#111111', weight='bold')
fig.add_trace(go.Scatter(x=[1350, 1350], y=LEGEND3_Y, mode='markers', marker=dict(color=LEGEND3_COLORS, size=4.5),
                         hoverinfo='skip'))
for name, y in zip(LEGEND3_NAMES, LEGEND3_Y):
    note(fig, name, 1371, y, 11.1)

# titles
note(fig, TITLE, 37, 63, 50, color='#0072BC', family='Roboto', weight=500)
for text, x, y in SUBTITLES:
    note(fig, text, x, y, 27.3, color='#3A4252', family='Roboto')

# the page keeps a small margin around the plot, so the view starts at 8, 8
fig.update_layout(width=2040, height=1144, margin=dict(l=0, r=0, t=0, b=0), showlegend=False,
                  paper_bgcolor='white', plot_bgcolor='white',
                  xaxis=dict(range=[8, 2048], visible=False, fixedrange=True),
                  yaxis=dict(range=[1152, 8], visible=False, fixedrange=True))
fig.write_html("out.html")
